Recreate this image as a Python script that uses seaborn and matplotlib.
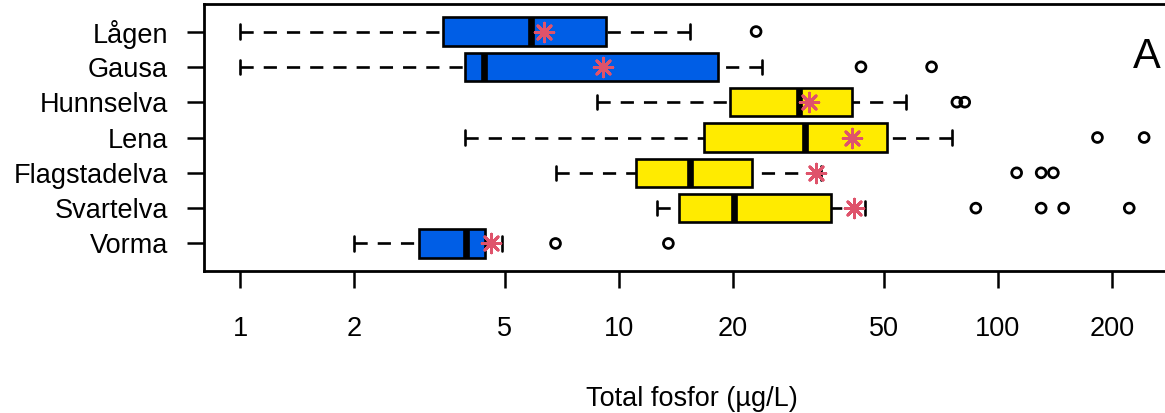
import numpy as np
import pandas as pd
import matplotlib
matplotlib.use("Agg")
import matplotlib.pyplot as plt
import seaborn as sns

# Summary statistics of total phosphorus per river (µg/L)
rivers = ["Lågen", "Gausa", "Hunnselva", "Lena", "Flagstadelva", "Svartelva", "Vorma"]
box_colors = ["#005EE6", "#005EE6", "#FFEB00", "#FFEB00", "#FFEB00", "#FFEB00", "#005EE6"]

whisker_low = [1.0, 1.0, 8.75, 3.92, 6.8, 12.6, 2.0]
q1 = [3.43, 3.92, 19.6, 16.8, 11.1, 14.4, 2.97]
median = [5.86, 4.40, 29.9, 30.9, 15.4, 20.1, 3.94]
q3 = [9.22, 18.2, 41.3, 51.0, 22.5, 36.2, 4.43]
whisker_high = [15.4, 23.8, 57.3, 75.8, 34.2, 44.5, 4.90]
mean = [6.34, 9.08, 31.7, 41.3, 33.0, 41.7, 4.59]
outliers = [
    [23.0],
    [43.5, 66.8],
    [77.9, 81.7],
    [183.0, 243.0],
    [112.0, 130.0, 140.0],
    [87.4, 130.0, 149.0, 222.0],
    [6.8, 13.5],
]

x_ticks = [1, 2, 5, 10, 20, 50, 100, 200]
x_label = "Total fosfor (µg/L)"
panel_label = "A"

sns.set_theme(style="ticks")
plt.rcParams["font.family"] = ["Liberation Sans", "DejaVu Sans"]
plt.rcParams["text.color"] = "black"
plt.rcParams["axes.labelcolor"] = "black"

W, H = 1165, 413
fig = plt.figure(figsize=(W / 100, H / 100), dpi=100)
ax = fig.add_axes([204 / W, (H - 271) / H, 975 / W, 267 / H])

positions = np.arange(len(rivers))
stats = [
    dict(whislo=lo, q1=a, med=m, q3=b, whishi=hi, fliers=[])
    for lo, a, m, b, hi in zip(whisker_low, q1, median, q3, whisker_high)
]

lw = 1.9
parts = ax.bxp(
    stats,
    positions=positions,
    widths=0.8,
    capwidths=0.4,
    orientation="horizontal",
    patch_artist=True,
    showfliers=False,
    manage_ticks=False,
    boxprops=dict(linewidth=lw, edgecolor="black"),
    whiskerprops=dict(linewidth=lw, color="black", linestyle=(0, (5, 3.8))),
    capprops=dict(linewidth=lw, color="black"),
    medianprops=dict(linewidth=4.8, color="black", solid_capstyle="butt"),
)
for patch, c in zip(parts["boxes"], box_colors):
    patch.set_facecolor(c)
# start dash pattern at the whisker end
for wl in parts["whiskers"]:
    xd, yd = wl.get_data()
    wl.set_data(list(xd)[::-1], list(yd)[::-1])

# outliers
out_df = pd.DataFrame(
    [(v, p) for p, vals in zip(positions, outliers) for v in vals],
    columns=["value", "pos"],
)
sns.scatterplot(data=out_df, x="value", y="pos", marker="o", s=50,
                color="none", edgecolor="black", linewidth=2.0, ax=ax, zorder=4)

# means
mean_df = pd.DataFrame({"value": mean, "pos": positions})
sns.scatterplot(data=mean_df, x="value", y="pos", marker=(8, 2, 0), s=180,
                color="#DF536B", linewidth=2.1, ax=ax, zorder=5)

ax.set_xscale("log")
ax.set_xlim(10 ** (-0.095), 10 ** 2.4776)
ax.set_ylim(6.78, -0.78)
ax.set_xticks(x_ticks)
ax.set_xticklabels([str(t) for t in x_ticks])
ax.xaxis.set_minor_locator(matplotlib.ticker.NullLocator())
ax.set_yticks(positions)
ax.set_yticklabels(rivers)
ax.tick_params(axis="both", direction="out", length=12.2, width=1.8,
               labelsize=19.5, color="black", labelcolor="black")
ax.tick_params(axis="y", pad=13.7)
ax.tick_params(axis="x", pad=20)
ax.set_xlabel(x_label, fontsize=19.5, labelpad=32, color="black")
ax.set_ylabel("")
for sp in ax.spines.values():
    sp.set_visible(True)
    sp.set_linewidth(2.0)
    sp.set_color("black")
ax.grid(False)

fig.text(1147 / W, 1 - 57 / H, panel_label, fontsize=30, color="black",
         ha="center", va="center")

fig.savefig("out.png", dpi=100)
